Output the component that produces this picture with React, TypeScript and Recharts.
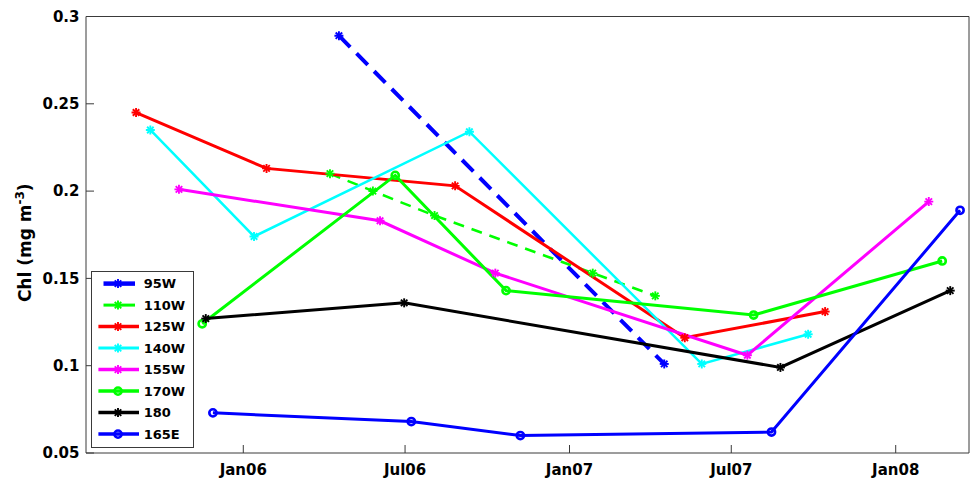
import React from 'react';
import { LineChart, Line, XAxis, YAxis, Legend } from 'recharts';

// sampling dates and chlorophyll values per station
const dates95W = ['2006-04-18', '2007-04-17'];
const chl95W = [0.289, 0.101];

const dates110W = ['2006-04-08', '2006-05-26', '2006-08-03', '2007-01-27', '2007-04-07'];
const chl110W = [0.210, 0.200, 0.186, 0.153, 0.140];

const dates125W = ['2005-09-03', '2006-01-27', '2006-08-26', '2007-05-10', '2007-10-14'];
const chl125W = [0.245, 0.213, 0.203, 0.116, 0.131];

const dates140W = ['2005-09-19', '2006-01-13', '2006-09-11', '2007-05-29', '2007-09-25'];
const chl140W = [0.235, 0.174, 0.234, 0.101, 0.118];

const dates155W = ['2005-10-21', '2006-06-03', '2006-10-10', '2007-07-19', '2008-02-07'];
const chl155W = [0.201, 0.183, 0.153, 0.106, 0.194];

const dates170W = ['2005-11-16', '2006-06-20', '2006-10-22', '2007-07-26', '2008-02-22'];
const chl170W = [0.124, 0.209, 0.143, 0.129, 0.160];

const dates180 = ['2005-11-20', '2006-06-30', '2007-08-25', '2008-03-02'];
const chl180 = [0.127, 0.136, 0.099, 0.143];

const dates165E = ['2005-11-28', '2006-07-08', '2006-11-07', '2007-08-15', '2008-03-13'];
const chl165E = [0.073, 0.068, 0.060, 0.062, 0.189];

const tickDates = ['2006-01-01', '2006-07-01', '2007-01-01', '2007-07-01', '2008-01-01'];
const tickLabels = ['Jan06', 'Jul06', 'Jan07', 'Jul07', 'Jan08'];
const yTicks = [0.05, 0.1, 0.15, 0.2, 0.25, 0.3];
const xRange = ['2005-07-09', '2008-03-23'];

const toDay = (s: string) => Date.parse(s + 'T00:00:00Z') / 86400000;

type Kind = '*' | 'o';

interface Series {
  name: string;
  color: string;
  width: number;
  dash?: string;
  marker: Kind;
  dates: string[];
  values: number[];
}

const series: Series[] = [
  { name: '95W', color: '#0000ff', width: 4, dash: '16 9', marker: '*', dates: dates95W, values: chl95W },
  { name: '110W', color: '#00ff00', width: 2.5, dash: '11 8', marker: '*', dates: dates110W, values: chl110W },
  { name: '125W', color: '#ff0000', width: 3, marker: '*', dates: dates125W, values: chl125W },
  { name: '140W', color: '#00ffff', width: 2.5, marker: '*', dates: dates140W, values: chl140W },
  { name: '155W', color: '#ff00ff', width: 3, marker: '*', dates: dates155W, values: chl155W },
  { name: '170W', color: '#00ff00', width: 3, marker: 'o', dates: dates170W, values: chl170W },
  { name: '180', color: '#000000', width: 3, marker: '*', dates: dates180, values: chl180 },
  { name: '165E', color: '#0000ff', width: 3, marker: 'o', dates: dates165E, values: chl165E },
];

const FONT = '"DejaVu Sans", sans-serif';
const FRAME = '#3a3a3a';

function Marker({ cx, cy, color, kind }: { cx: number; cy: number; color: string; kind: Kind }) {
  if (kind === 'o') {
    return <circle cx={cx} cy={cy} r={3.6} fill="none" stroke={color} strokeWidth={2.6} strokeDasharray="none" />;
  }
  const r = 4.5;
  const d = r * 0.72;
  return (
    <g stroke={color} strokeWidth={1.9} strokeDasharray="none">
      <line x1={cx - r} y1={cy} x2={cx + r} y2={cy} />
      <line x1={cx} y1={cy - r} x2={cx} y2={cy + r} />
      <line x1={cx - d} y1={cy - d} x2={cx + d} y2={cy + d} />
      <line x1={cx - d} y1={cy + d} x2={cx + d} y2={cy - d} />
    </g>
  );
}

function LegendBox() {
  const w = 103;
  const h = 177;
  return (
    <svg width={w} height={h} style={{ display: 'block' }}>
      <rect x={0.5} y={0.5} width={w - 1} height={h - 1} fill="#fff" stroke={FRAME} strokeWidth={1} />
      {series.map((s, i) => {
        const cy = 12.6 + i * 21.5;
        return (
          <g key={s.name}>
            <line
              x1={s.dash ? 12.5 : 7.4}
              x2={s.dash ? 44 : 48}
              y1={cy}
              y2={cy}
              stroke={s.color}
              strokeWidth={s.width + 0.5}
            />
            <Marker cx={27} cy={cy} color={s.color} kind={s.marker} />
            <text x={52.7} y={cy + 4.8} fontFamily={FONT} fontWeight="bold" fontSize={13} fill="#000">
              {s.name}
            </text>
          </g>
        );
      })}
    </svg>
  );
}

function YLabel(props: any) {
  const vb = props.viewBox || { x: 0, y: 16.5, height: 436.5 };
  const x = vb.x + 30.5;
  const y = vb.y + vb.height / 2 + 8;
  return (
    <text
      x={x}
      y={y}
      transform={`rotate(-90, ${x}, ${y})`}
      textAnchor="middle"
      fontFamily={FONT}
      fontWeight="bold"
      fontSize={17}
      fill="#000"
    >
      Chl (mg m
      <tspan dy={-7} fontSize={12}>-3</tspan>
      <tspan dy={7}>)</tspan>
    </text>
  );
}

export default function App() {
  const xTicks = tickDates.map(toDay);
  const xDomain = xRange.map(toDay);
  const labelFor = (v: number) => tickLabels[xTicks.indexOf(v)] ?? '';
  const tickStyle = { fontFamily: FONT, fontWeight: 'bold', fontSize: 15, fill: '#000' };

  return (
    <div style={{ position: 'absolute', left: 0, top: 0, background: '#fff' }}>
      <LineChart width={971} height={482} margin={{ top: 0.5, right: 0, bottom: 0, left: 0 }}>
        <XAxis
          type="number"
          dataKey="t"
          domain={xDomain}
          ticks={xTicks}
          allowDataOverflow
          tickFormatter={labelFor}
          height={29}
          tickSize={-8}
          tickMargin={19}
          stroke={FRAME}
          tick={tickStyle}
        />
        <XAxis
          xAxisId="top"
          orientation="top"
          type="number"
          dataKey="t"
          domain={xDomain}
          ticks={xTicks}
          allowDataOverflow
          height={16}
          tickSize={-8}
          tick={false}
          stroke={FRAME}
        />
        <YAxis
          type="number"
          domain={[0.05, 0.3]}
          ticks={yTicks}
          allowDataOverflow
          width={86}
          tickSize={-8}
          tickMargin={14.5}
          stroke={FRAME}
          tick={tickStyle}
          label={{ content: YLabel }}
        />
        <YAxis
          yAxisId="right"
          orientation="right"
          type="number"
          domain={[0.05, 0.3]}
          ticks={yTicks}
          allowDataOverflow
          width={2}
          tickSize={-8}
          tick={false}
          stroke={FRAME}
        />
        <Legend
          layout="vertical"
          align="center"
          verticalAlign="middle"
          content={() => <LegendBox />}
          wrapperStyle={{ left: 91, top: 271, width: 103, height: 177 }}
        />
        {series.map((s) => (
          <Line
            key={s.name}
            name={s.name}
            data={s.dates.map((d, i) => ({ t: toDay(d), v: s.values[i] }))}
            dataKey="v"
            type="linear"
            stroke={s.color}
            strokeWidth={s.width}
            strokeDasharray={s.dash}
            isAnimationActive={false}
            activeDot={false}
            dot={(p: any) => (
              <Marker key={`${s.name}-${p.index}`} cx={p.cx} cy={p.cy} color={s.color} kind={s.marker} />
            )}
          />
        ))}
      </LineChart>
    </div>
  );
}
